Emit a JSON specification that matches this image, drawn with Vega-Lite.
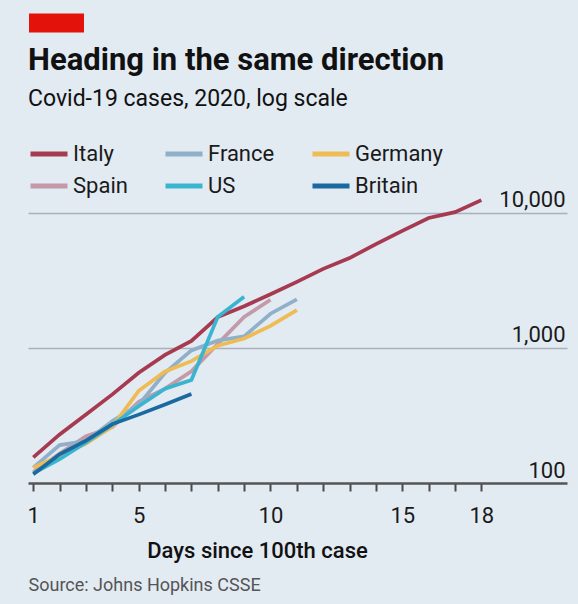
{
  "$schema": "https://vega.github.io/schema/vega-lite/v6.json",
  "autosize": {"type": "none"},
  "width": 539,
  "height": 293,
  "padding": {"left": 28, "top": 190, "right": 11, "bottom": 121},
  "background": "#e2eaf2",
  "config": {"view": {"stroke": null}, "font": "Roboto"},
  "title": {
    "text": "Heading in the same direction",
    "subtitle": "Covid-19 cases, 2020, log scale",
    "anchor": "start",
    "frame": "group",
    "fontSize": 31,
    "fontWeight": "bold",
    "color": "#111111",
    "subtitleFontSize": 23,
    "subtitleColor": "#111111",
    "subtitlePadding": 11,
    "offset": -126
  },
  "data": {
    "values": [
      {"country": "Italy", "day": 1, "cases": 155},
      {"country": "Italy", "day": 2, "cases": 229},
      {"country": "Italy", "day": 3, "cases": 322},
      {"country": "Italy", "day": 4, "cases": 453},
      {"country": "Italy", "day": 5, "cases": 655},
      {"country": "Italy", "day": 6, "cases": 888},
      {"country": "Italy", "day": 7, "cases": 1128},
      {"country": "Italy", "day": 8, "cases": 1694},
      {"country": "Italy", "day": 9, "cases": 2036},
      {"country": "Italy", "day": 10, "cases": 2502},
      {"country": "Italy", "day": 11, "cases": 3089},
      {"country": "Italy", "day": 12, "cases": 3858},
      {"country": "Italy", "day": 13, "cases": 4636},
      {"country": "Italy", "day": 14, "cases": 5883},
      {"country": "Italy", "day": 15, "cases": 7375},
      {"country": "Italy", "day": 16, "cases": 9172},
      {"country": "Italy", "day": 17, "cases": 10149},
      {"country": "Italy", "day": 18, "cases": 12462},
      {"country": "Spain", "day": 1, "cases": 120},
      {"country": "Spain", "day": 2, "cases": 165},
      {"country": "Spain", "day": 3, "cases": 222},
      {"country": "Spain", "day": 4, "cases": 259},
      {"country": "Spain", "day": 5, "cases": 400},
      {"country": "Spain", "day": 6, "cases": 500},
      {"country": "Spain", "day": 7, "cases": 673},
      {"country": "Spain", "day": 8, "cases": 1073},
      {"country": "Spain", "day": 9, "cases": 1695},
      {"country": "Spain", "day": 10, "cases": 2277},
      {"country": "France", "day": 1, "cases": 130},
      {"country": "France", "day": 2, "cases": 191},
      {"country": "France", "day": 3, "cases": 204},
      {"country": "France", "day": 4, "cases": 288},
      {"country": "France", "day": 5, "cases": 380},
      {"country": "France", "day": 6, "cases": 656},
      {"country": "France", "day": 7, "cases": 959},
      {"country": "France", "day": 8, "cases": 1136},
      {"country": "France", "day": 9, "cases": 1219},
      {"country": "France", "day": 10, "cases": 1794},
      {"country": "France", "day": 11, "cases": 2293},
      {"country": "Germany", "day": 1, "cases": 130},
      {"country": "Germany", "day": 2, "cases": 159},
      {"country": "Germany", "day": 3, "cases": 196},
      {"country": "Germany", "day": 4, "cases": 262},
      {"country": "Germany", "day": 5, "cases": 482},
      {"country": "Germany", "day": 6, "cases": 670},
      {"country": "Germany", "day": 7, "cases": 799},
      {"country": "Germany", "day": 8, "cases": 1040},
      {"country": "Germany", "day": 9, "cases": 1176},
      {"country": "Germany", "day": 10, "cases": 1457},
      {"country": "Germany", "day": 11, "cases": 1908},
      {"country": "US", "day": 1, "cases": 118},
      {"country": "US", "day": 2, "cases": 150},
      {"country": "US", "day": 3, "cases": 200},
      {"country": "US", "day": 4, "cases": 270},
      {"country": "US", "day": 5, "cases": 370},
      {"country": "US", "day": 6, "cases": 500},
      {"country": "US", "day": 7, "cases": 580},
      {"country": "US", "day": 8, "cases": 1700},
      {"country": "US", "day": 9, "cases": 2400},
      {"country": "Britain", "day": 1, "cases": 116},
      {"country": "Britain", "day": 2, "cases": 163},
      {"country": "Britain", "day": 3, "cases": 206},
      {"country": "Britain", "day": 4, "cases": 273},
      {"country": "Britain", "day": 5, "cases": 321},
      {"country": "Britain", "day": 6, "cases": 382},
      {"country": "Britain", "day": 7, "cases": 456}
    ]
  },
  "layer": [
    {
      "mark": {"type": "line", "strokeWidth": 3.7},
      "encoding": {
        "x": {
          "field": "day",
          "type": "quantitative",
          "scale": {"domain": [0.8, 21.25], "nice": false, "zero": false},
          "axis": {
            "values": [1, 2, 3, 4, 5, 6, 7, 8, 9, 10, 11, 12, 13, 14, 15, 16, 17, 18],
            "labelExpr": "datum.value == 1 || datum.value % 5 == 0 || datum.value == 18 ? datum.label : ''",
            "tickSize": 8,
            "tickWidth": 2,
            "tickColor": "#4a4a4a",
            "domainColor": "#555555",
            "domainWidth": 2.5,
            "labelFontSize": 22,
            "labelColor": "#1a1a1a",
            "labelPadding": 14,
            "labelFlush": false,
            "labelOverlap": false,
            "grid": false,
            "title": "Days since 100th case",
            "titleFontSize": 22,
            "titleFontWeight": 500,
            "titleColor": "#111111",
            "titleX": 229,
            "titleY": 74,
            "titleAlign": "center",
            "titleBaseline": "alphabetic"
          }
        },
        "y": {
          "field": "cases",
          "type": "quantitative",
          "scale": {"type": "log", "domain": [100, 14800], "nice": false},
          "axis": {
            "orient": "right",
            "values": [100, 1000, 10000],
            "format": ",",
            "grid": true,
            "gridColor": {"condition": {"test": "datum.value == 100", "value": "transparent"}, "value": "#a9b2ba"},
            "gridWidth": 1.5,
            "ticks": false,
            "tickSize": 0,
            "domain": false,
            "labelAlign": "right",
            "labelBaseline": "alphabetic",
            "labelPadding": -2,
            "labelOffset": -6,
            "labelFontSize": 22,
            "labelColor": "#1a1a1a",
            "labelFlush": false,
            "title": "Source: Johns Hopkins CSSE",
            "titleAngle": 0,
            "titleX": -539,
            "titleY": 400,
            "titleAlign": "left",
            "titleBaseline": "alphabetic",
            "titleFontSize": 18,
            "titleFontWeight": "normal",
            "titleColor": "#555555"
          }
        },
        "color": {
          "field": "country",
          "type": "nominal",
          "scale": {
            "domain": ["Italy", "Spain", "France", "US", "Germany", "Britain"],
            "range": ["#a63a50", "#c49aa8", "#8fb0c8", "#3ab5cf", "#eebb55", "#1a6aa0"]
          },
          "legend": {
            "orient": "none",
            "legendX": 0,
            "legendY": -57,
            "columns": 3,
            "title": null,
            "symbolType": "stroke",
            "symbolSize": 1369,
            "symbolStrokeWidth": 5,
            "labelFontSize": 22,
            "labelColor": "#1a1a1a",
            "labelOffset": 3,
            "columnPadding": 27,
            "rowPadding": -6,
            "padding": 0
          }
        }
      }
    },
    {
      "mark": {"type": "point", "opacity": 0},
      "encoding": {
        "x": {
          "field": "day",
          "type": "quantitative",
          "axis": {
            "orient": "top",
            "values": [1.8437],
            "labels": false,
            "domain": false,
            "grid": false,
            "title": null,
            "tickColor": "#e3120b",
            "tickWidth": 55,
            "tickSize": 19,
            "tickCap": "butt",
            "offset": 158
          }
        }
      }
    }
  ],
  "resolve": {"axis": {"x": "independent"}}
}
